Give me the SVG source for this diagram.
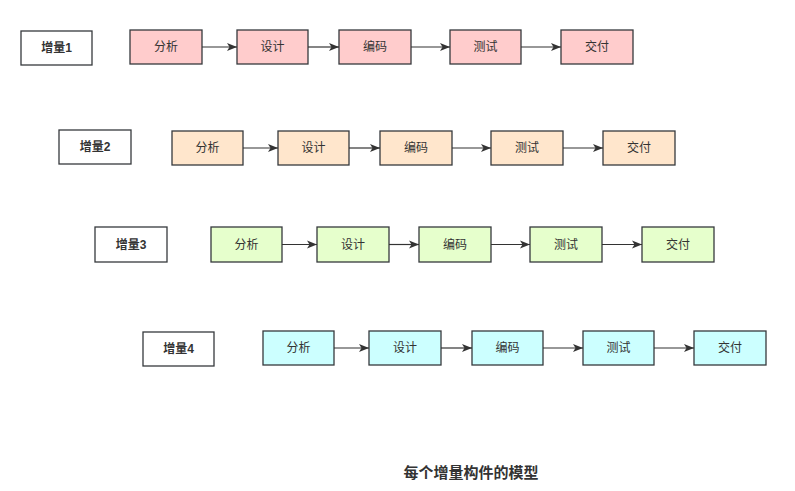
<svg xmlns="http://www.w3.org/2000/svg" width="795" height="491" viewBox="0 0 795 491">
<defs>
<style>
.bg{fill:#ffffff}
.lbl rect{fill:#ffffff;stroke:#36393d;stroke-width:1.3}
.lbl text{font-family:"Liberation Sans","Noto Sans CJK SC",sans-serif;font-size:12px;font-weight:bold;fill:#333333;text-anchor:middle;dominant-baseline:central}
.n rect{stroke:#36393d;stroke-width:1.3}
.n text{font-family:"Liberation Sans","Noto Sans CJK SC",sans-serif;font-size:12px;fill:#333333;text-anchor:middle;dominant-baseline:central}
.r1 rect{fill:#ffcccc}
.r2 rect{fill:#ffe6cc}
.r3 rect{fill:#e6ffcc}
.r4 rect{fill:#ccffff}
.e line{stroke:#333333;stroke-width:1.2;marker-end:url(#ah)}
.title{font-family:"Liberation Sans","Noto Sans CJK SC",sans-serif;font-size:15px;font-weight:bold;fill:#333333;text-anchor:middle;dominant-baseline:central}
</style>
<marker id="ah" viewBox="0 0 10 10" refX="10" refY="5" markerWidth="10" markerHeight="10" markerUnits="userSpaceOnUse" orient="auto">
<path d="M0,1 L10,5 L0,9 L2.5,5 Z" fill="#333333"/>
</marker>
</defs>
<rect class="bg" x="0" y="0" width="795" height="491"/>

<g id="inc1" class="lbl"><rect x="21" y="31" width="71" height="34"/><text x="56.5" y="48">增量1</text></g>
<g id="r1n1" class="n r1"><rect x="130" y="30" width="72" height="34"/><text x="166" y="47">分析</text></g>
<g id="r1n2" class="n r1"><rect x="237" y="30" width="71" height="34"/><text x="272.5" y="47">设计</text></g>
<g id="r1n3" class="n r1"><rect x="339" y="30" width="72" height="34"/><text x="375" y="47">编码</text></g>
<g id="r1n4" class="n r1"><rect x="450" y="30" width="71" height="34"/><text x="485.5" y="47">测试</text></g>
<g id="r1n5" class="n r1"><rect x="561" y="30" width="72" height="34"/><text x="597" y="47">交付</text></g>

<g id="inc2" class="lbl"><rect x="59" y="130" width="72" height="34"/><text x="95" y="147">增量2</text></g>
<g id="r2n1" class="n r2"><rect x="172" y="131" width="71" height="34"/><text x="207.5" y="148">分析</text></g>
<g id="r2n2" class="n r2"><rect x="278" y="131" width="71" height="34"/><text x="313.5" y="148">设计</text></g>
<g id="r2n3" class="n r2"><rect x="380" y="131" width="72" height="34"/><text x="416" y="148">编码</text></g>
<g id="r2n4" class="n r2"><rect x="491" y="131" width="72" height="34"/><text x="527" y="148">测试</text></g>
<g id="r2n5" class="n r2"><rect x="603" y="131" width="72" height="34"/><text x="639" y="148">交付</text></g>

<g id="inc3" class="lbl"><rect x="95" y="227" width="72" height="35"/><text x="131" y="244.5">增量3</text></g>
<g id="r3n1" class="n r3"><rect x="211" y="227" width="71" height="35"/><text x="246.5" y="244.5">分析</text></g>
<g id="r3n2" class="n r3"><rect x="317" y="227" width="72" height="35"/><text x="353" y="244.5">设计</text></g>
<g id="r3n3" class="n r3"><rect x="419" y="227" width="72" height="35"/><text x="455" y="244.5">编码</text></g>
<g id="r3n4" class="n r3"><rect x="530" y="227" width="72" height="35"/><text x="566" y="244.5">测试</text></g>
<g id="r3n5" class="n r3"><rect x="642" y="227" width="72" height="35"/><text x="678" y="244.5">交付</text></g>

<g id="inc4" class="lbl"><rect x="143" y="332" width="71" height="34"/><text x="178.5" y="349">增量4</text></g>
<g id="r4n1" class="n r4"><rect x="263" y="331" width="71" height="34"/><text x="298.5" y="348">分析</text></g>
<g id="r4n2" class="n r4"><rect x="369" y="331" width="72" height="34"/><text x="405" y="348">设计</text></g>
<g id="r4n3" class="n r4"><rect x="472" y="331" width="71" height="34"/><text x="507.5" y="348">编码</text></g>
<g id="r4n4" class="n r4"><rect x="583" y="331" width="71" height="34"/><text x="618.5" y="348">测试</text></g>
<g id="r4n5" class="n r4"><rect x="694" y="331" width="72" height="34"/><text x="730" y="348">交付</text></g>

<g id="connectors" class="e">
<line x1="202" y1="47" x2="237" y2="47"/>
<line x1="308" y1="47" x2="339" y2="47"/>
<line x1="411" y1="47" x2="450" y2="47"/>
<line x1="521" y1="47" x2="561" y2="47"/>
<line x1="243" y1="148" x2="278" y2="148"/>
<line x1="349" y1="148" x2="380" y2="148"/>
<line x1="452" y1="148" x2="491" y2="148"/>
<line x1="563" y1="148" x2="603" y2="148"/>
<line x1="282" y1="244.5" x2="317" y2="244.5"/>
<line x1="389" y1="244.5" x2="419" y2="244.5"/>
<line x1="491" y1="244.5" x2="530" y2="244.5"/>
<line x1="602" y1="244.5" x2="642" y2="244.5"/>
<line x1="334" y1="348" x2="369" y2="348"/>
<line x1="441" y1="348" x2="472" y2="348"/>
<line x1="543" y1="348" x2="583" y2="348"/>
<line x1="654" y1="348" x2="694" y2="348"/>
</g>

<text class="title" x="471" y="472">每个增量构件的模型</text>
</svg>
